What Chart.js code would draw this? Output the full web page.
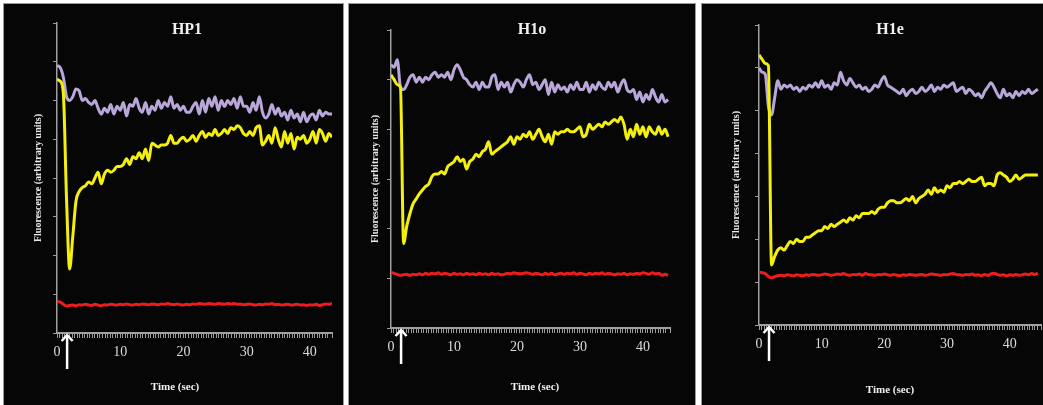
<!DOCTYPE html>
<html>
<head>
<meta charset="utf-8">
<script src="https://cdn.jsdelivr.net/npm/chart.js@4.4.1/dist/chart.umd.min.js"></script>
<style>
  body { margin: 0; background: #fff; width: 1043px; height: 405px; overflow: hidden; position: relative; }
  .panel { position: absolute; top: 3px; background: #060606; border: 1px solid #9a9a9a; }
  canvas { display: block; }
</style>
</head>
<body>
<div class="panel" style="left:3px"><canvas id="hp1" width="339" height="402"></canvas></div>
<div class="panel" style="left:348px"><canvas id="h1o" width="346" height="402"></canvas></div>
<div class="panel" style="left:701px"><canvas id="h1e" width="345" height="402"></canvas></div>
<script>
// time points (sec), shared by all three traces
const timeSec = [0,0.5,1,1.5,2,2.5,3,3.5,4,4.5,5,5.5,6,6.5,7,7.5,8,8.5,9,9.5,
  10,10.5,11,11.5,12,12.5,13,13.5,14,14.5,15,15.5,16,16.5,17,17.5,18,18.5,19,19.5,
  20,20.5,21,21.5,22,22.5,23,23.5,24,24.5,25,25.5,26,26.5,27,27.5,28,28.5,29,29.5,
  30,30.5,31,31.5,32,32.5,33,33.5,34,34.5,35,35.5,36,36.5,37,37.5,38,38.5,39,39.5,
  40,40.5,41,41.5,42,42.5,43,43.5,44,44.5];
const xTickLabels = [0, 10, 20, 30, 40];
const arrowAt = 1.6; // bleach pulse

// HP1
const hp1Purple = [6.9,6.85,6.6,6.1,6.0,6.1,6.3,6.25,6.0,6.05,
  5.95,5.9,6.0,5.8,5.65,5.8,5.7,5.9,5.65,5.85,
  5.75,5.95,5.6,5.9,5.85,6.05,5.8,5.7,5.95,5.65,
  5.85,5.75,6.0,5.8,5.95,5.85,6.1,5.8,5.9,5.75,
  5.85,5.7,5.7,5.85,5.95,5.65,6.0,5.7,6.05,5.85,
  6.1,5.75,6.0,5.85,6.0,5.9,6.05,5.8,6.1,5.85,
  5.85,5.7,5.95,5.75,6.1,5.7,5.55,5.65,5.9,5.65,
  5.8,5.6,5.7,5.5,5.75,5.55,5.65,5.45,5.7,5.45,
  5.6,5.65,5.5,5.75,5.6,5.7,5.65,5.65];
const hp1Yellow = [6.55,6.5,6.2,3.5,1.65,2.5,3.4,3.65,3.75,3.8,
  3.9,3.85,4.0,4.15,3.85,4.1,4.2,4.15,4.2,4.3,
  4.3,4.35,4.5,4.35,4.55,4.5,4.65,4.5,4.75,4.45,
  4.9,4.85,4.8,4.85,4.85,4.9,5.1,4.9,4.9,5.0,
  5.05,4.95,5.0,5.1,4.95,5.1,5.2,5.05,5.15,5.1,
  5.25,5.1,5.15,5.25,5.15,5.3,5.25,5.35,5.3,5.15,
  5.1,5.2,5.1,5.3,5.35,4.85,4.95,5.1,4.9,5.3,
  5.0,4.8,5.2,4.9,5.15,4.75,5.05,5.0,5.1,4.9,
  5.0,5.2,4.9,5.25,5.15,4.95,5.15,5.05];
const hp1Red = [0.82,0.8,0.74,0.7,0.71,0.72,0.7,0.73,0.72,0.74,
  0.72,0.71,0.74,0.72,0.7,0.73,0.72,0.74,0.73,0.72,
  0.74,0.73,0.75,0.73,0.72,0.74,0.73,0.75,0.74,0.73,
  0.75,0.74,0.73,0.75,0.74,0.76,0.74,0.73,0.75,0.73,
  0.72,0.74,0.73,0.75,0.74,0.76,0.75,0.74,0.76,0.75,
  0.74,0.76,0.75,0.74,0.76,0.75,0.76,0.74,0.75,0.73,
  0.74,0.75,0.73,0.72,0.74,0.73,0.75,0.74,0.76,0.73,
  0.74,0.72,0.73,0.74,0.72,0.73,0.74,0.72,0.73,0.71,
  0.73,0.72,0.74,0.71,0.73,0.75,0.74,0.76];

// H1o
const h1oPurple = [5.3,5.25,5.4,4.85,4.8,4.9,5.05,5.1,4.95,5.05,
  4.95,5.05,5.0,5.1,5.15,5.05,5.1,5.05,5.15,5.0,
  5.2,5.3,5.2,5.05,5.0,4.9,4.85,4.95,4.8,4.95,
  4.85,4.85,5.05,5.1,4.8,4.95,4.85,4.95,4.75,4.9,
  5.0,4.95,4.85,5.0,5.1,4.9,4.95,4.8,4.9,5.0,
  4.7,4.95,4.75,4.9,4.8,4.85,4.75,4.9,4.8,4.95,
  4.8,4.8,4.95,4.75,4.9,4.8,4.95,4.85,4.8,4.95,
  4.85,4.95,4.75,4.9,5.0,4.8,4.75,4.8,4.6,4.75,
  4.55,4.7,4.6,4.8,4.65,4.55,4.7,4.55,4.6];
const h1oYellow = [5.1,5.0,4.9,4.85,1.7,2.05,2.3,2.5,2.6,2.7,
  2.78,2.85,2.9,3.05,3.1,3.1,3.15,3.1,3.25,3.3,
  3.35,3.45,3.35,3.4,3.2,3.35,3.4,3.5,3.45,3.55,
  3.6,3.75,3.5,3.55,3.6,3.65,3.7,3.75,3.85,3.7,
  3.85,3.8,3.9,3.85,3.95,3.8,3.9,4.0,3.85,3.75,
  3.9,3.7,3.95,3.9,3.95,3.95,4.0,3.95,3.95,4.0,
  4.05,3.85,3.9,4.1,4.0,4.05,4.1,4.05,4.15,4.1,
  4.15,4.2,4.15,4.25,4.1,3.8,4.0,3.85,4.1,3.9,
  4.05,3.85,4.05,3.95,3.9,4.05,3.9,4.0,3.85];
const h1oRed = [1.12,1.1,1.08,1.06,1.07,1.08,1.06,1.08,1.07,1.09,
  1.07,1.1,1.08,1.1,1.09,1.11,1.08,1.1,1.09,1.07,
  1.1,1.08,1.09,1.07,1.1,1.08,1.09,1.07,1.1,1.08,
  1.09,1.07,1.1,1.08,1.09,1.07,1.08,1.1,1.09,1.11,
  1.1,1.09,1.1,1.11,1.1,1.08,1.1,1.09,1.07,1.1,
  1.08,1.1,1.07,1.09,1.1,1.08,1.1,1.09,1.11,1.08,
  1.1,1.09,1.07,1.1,1.08,1.1,1.09,1.11,1.08,1.1,
  1.09,1.07,1.09,1.08,1.1,1.07,1.09,1.08,1.1,1.09,
  1.11,1.1,1.08,1.11,1.09,1.1,1.06,1.08,1.06];

// H1e
const h1ePurple = [6.0,5.9,5.85,5.1,4.9,5.3,5.7,5.5,5.6,5.55,
  5.6,5.5,5.55,5.45,5.55,5.5,5.6,5.55,5.65,5.55,
  5.7,5.55,5.6,5.5,5.65,5.6,5.9,5.7,5.6,5.75,
  5.65,5.55,5.6,5.5,5.55,5.45,5.5,5.6,5.55,5.7,
  5.8,5.6,5.55,5.5,5.45,5.4,5.5,5.35,5.45,5.5,
  5.4,5.45,5.55,5.45,5.5,5.6,5.45,5.55,5.5,5.6,
  5.55,5.6,5.65,5.45,5.5,5.55,5.4,5.5,5.45,5.35,
  5.4,5.3,5.45,5.55,5.65,5.55,5.4,5.3,5.5,5.35,
  5.4,5.3,5.45,5.35,5.45,5.4,5.5,5.4,5.45,5.5];
const h1eYellow = [6.3,6.2,6.1,6.05,1.4,1.6,1.75,1.8,1.75,1.85,
  1.95,1.9,2.0,1.95,1.95,2.05,2.05,2.1,2.15,2.2,
  2.2,2.3,2.25,2.35,2.3,2.35,2.4,2.45,2.4,2.5,
  2.45,2.55,2.5,2.6,2.6,2.6,2.65,2.6,2.7,2.75,
  2.75,2.85,2.9,2.9,2.85,2.85,2.9,2.95,2.9,3.0,
  2.85,2.95,3.0,3.05,3.15,3.05,3.2,3.1,3.15,3.1,
  3.25,3.2,3.3,3.3,3.35,3.3,3.35,3.4,3.35,3.35,
  3.4,3.45,3.25,3.3,3.3,3.25,3.5,3.55,3.5,3.45,
  3.35,3.4,3.5,3.4,3.45,3.5,3.5,3.5,3.5,3.5];
const h1eRed = [1.24,1.22,1.2,1.13,1.1,1.13,1.15,1.16,1.15,1.17,
  1.16,1.15,1.17,1.16,1.15,1.17,1.16,1.18,1.17,1.16,
  1.17,1.19,1.18,1.16,1.17,1.19,1.18,1.2,1.17,1.16,
  1.18,1.17,1.19,1.16,1.2,1.18,1.17,1.16,1.18,1.17,
  1.19,1.17,1.16,1.18,1.16,1.15,1.17,1.16,1.18,1.17,
  1.16,1.17,1.18,1.16,1.17,1.19,1.18,1.17,1.16,1.18,
  1.17,1.19,1.2,1.18,1.17,1.16,1.18,1.17,1.19,1.16,
  1.17,1.15,1.18,1.16,1.19,1.21,1.18,1.16,1.17,1.15,
  1.17,1.16,1.18,1.16,1.17,1.19,1.17,1.2,1.18,1.21];

const PURPLE = '#b9a7da', YELLOW = '#f4ef0c', RED = '#ee1c1c';
const SERIF = '"Liberation Serif", "DejaVu Serif", serif';

// heading, Time title and arrow
const panelDecor = {
  id: 'panelDecor',
  afterDraw(chart, args, opts) {
    const { ctx, chartArea, scales } = chart;
    ctx.save();
    ctx.fillStyle = '#f0f0f0';
    ctx.textAlign = 'center';
    ctx.textBaseline = 'middle';
    ctx.font = 'bold 16px ' + SERIF;
    ctx.fillText(opts.heading, opts.headingX, opts.headingY);
    ctx.font = 'bold 11px ' + SERIF;
    ctx.fillText('Time (sec)', opts.timeX, opts.timeY);

    const ax = scales.x.getPixelForValue(arrowAt);
    const y0 = chartArea.bottom + 1;
    ctx.strokeStyle = '#ffffff';
    ctx.lineWidth = 2.5;
    ctx.beginPath();
    ctx.moveTo(ax, y0 + 1);
    ctx.lineTo(ax, y0 + 35);
    ctx.stroke();
    ctx.beginPath();
    ctx.moveTo(ax - 5.5, y0 + 7);
    ctx.lineTo(ax, y0 + 1);
    ctx.lineTo(ax + 5.5, y0 + 7);
    ctx.stroke();
    ctx.restore();
  }
};

function makePanel(id, p) {
  const canvas = document.getElementById(id);
  const W = canvas.width, H = canvas.height;
  const padLeft = p.yTitleX - 6;
  const line = (label, vals, color) => ({
    label,
    data: vals.map((v, i) => ({ x: timeSec[i], y: v })),
    borderColor: color,
    borderWidth: 3,
    pointRadius: 0,
    cubicInterpolationMode: 'monotone',
    borderJoinStyle: 'round',
    fill: false
  });
  return new Chart(canvas, {
    type: 'line',
    data: {
      datasets: [
        line('yellow', p.yellow, YELLOW),
        line('purple', p.purple, PURPLE),
        line('red', p.red, RED)
      ]
    },
    options: {
      responsive: false,
      animation: false,
      events: [],
      layout: { padding: { left: padLeft, top: p.plotTop, right: W - p.plotRight, bottom: 0 } },
      plugins: {
        legend: { display: false },
        tooltip: { enabled: false },
        panelDecor: p.decor
      },
      scales: {
        x: {
          type: 'linear',
          min: 0,
          max: p.xMax,
          afterFit: (s) => { s.height = H - p.plotBottom; },
          border: { color: '#a0a0a0', width: 2 },
          grid: { drawOnChartArea: false, drawTicks: true, tickLength: 5, color: '#9a9a9a', lineWidth: 1 },
          ticks: {
            stepSize: 0.4,
            autoSkip: false,
            maxTicksLimit: 200,
            maxRotation: 0,
            padding: 6,
            color: '#dcdcdc',
            font: { family: SERIF, size: 14 },
            callback: (v) => xTickLabels.find(t => Math.abs(t - v) < 1e-6) !== undefined ? String(Math.round(v)) : ''
          }
        },
        y: {
          min: 0,
          max: p.yMax,
          afterFit: (s) => { s.width = p.plotLeft - padLeft; },
          border: { color: '#a0a0a0', width: 1.5 },
          grid: { drawOnChartArea: false, drawTicks: true, tickLength: 4, color: '#9a9a9a' },
          ticks: { display: false, stepSize: 1 },
          title: {
            display: true,
            text: 'Fluorescence (arbitrary units)',
            color: '#e8e8e8',
            padding: 0,
            font: { family: SERIF, size: 10, weight: 'bold' }
          }
        }
      }
    },
    plugins: [panelDecor]
  });
}

makePanel('hp1', {
  purple: hp1Purple, yellow: hp1Yellow, red: hp1Red,
  yTitleX: 34, plotLeft: 53, plotTop: 19, plotBottom: 329, plotRight: 328,
  yMax: 8, xMax: 43.5,
  decor: { heading: 'HP1', headingX: 183, headingY: 26, timeX: 171, timeY: 383 }
});
makePanel('h1o', {
  purple: h1oPurple, yellow: h1oYellow, red: h1oRed,
  yTitleX: 26, plotLeft: 42, plotTop: 26, plotBottom: 324, plotRight: 321,
  yMax: 6, xMax: 44.3,
  decor: { heading: 'H1o', headingX: 183, headingY: 26, timeX: 186, timeY: 383 }
});
makePanel('h1e', {
  purple: h1ePurple, yellow: h1eYellow, red: h1eRed,
  yTitleX: 34, plotLeft: 57, plotTop: 21, plotBottom: 321, plotRight: 341,
  yMax: 7, xMax: 45,
  decor: { heading: 'H1e', headingX: 188, headingY: 26, timeX: 188, timeY: 386 }
});
</script>
</body>
</html>
